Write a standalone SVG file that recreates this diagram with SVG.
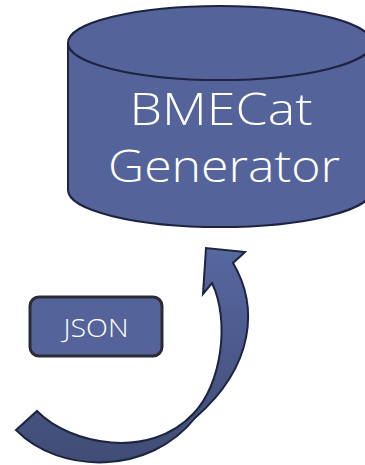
<svg xmlns="http://www.w3.org/2000/svg" width="365" height="465" viewBox="0 0 365 465">
  <style>
    .shape { fill: #54649a; stroke: #1d2340; stroke-width: 2; }
    .label { fill: #ffffff; font-family: "Open Sans", "Liberation Sans", Arial, sans-serif; font-weight: 300; text-anchor: middle; }
  </style>
  <defs>
    <linearGradient id="arrowGrad" x1="0" y1="248" x2="0" y2="465" gradientUnits="userSpaceOnUse">
      <stop offset="0" stop-color="#5767a0"/>
      <stop offset="1" stop-color="#404c74"/>
    </linearGradient>
  </defs>
  <g id="bmecat-generator">
    <path class="shape" d="M 68 43 L 68 190 A 152 37 0 0 0 372 190 L 372 43"/>
    <ellipse class="shape" cx="220" cy="43" rx="152" ry="37"/>
    <text class="label" x="221" y="125" font-size="45" textLength="183" lengthAdjust="spacingAndGlyphs">BMECat</text>
    <text class="label" x="224" y="182" font-size="45" textLength="232" lengthAdjust="spacingAndGlyphs">Generator</text>
  </g>
  <g id="json">
    <rect x="30" y="297" width="132" height="59" rx="9" ry="9" fill="#54649a" stroke="#2b2c33" stroke-width="3"/>
    <text class="label" x="96" y="337" font-size="25" textLength="65" lengthAdjust="spacingAndGlyphs">JSON</text>
  </g>
  <g id="connectors">
    <path d="M 16 430 L 37 411 C 70 445, 150 460, 193 414 C 222 385, 230 320, 212 283 L 203 294 L 206 248 L 245 252 L 233 263 C 258 305, 256 365, 195 418 C 150 475, 60 475, 16 430 Z" fill="url(#arrowGrad)" stroke="#1c2440" stroke-width="2" stroke-linejoin="miter"/>
  </g>
</svg>
